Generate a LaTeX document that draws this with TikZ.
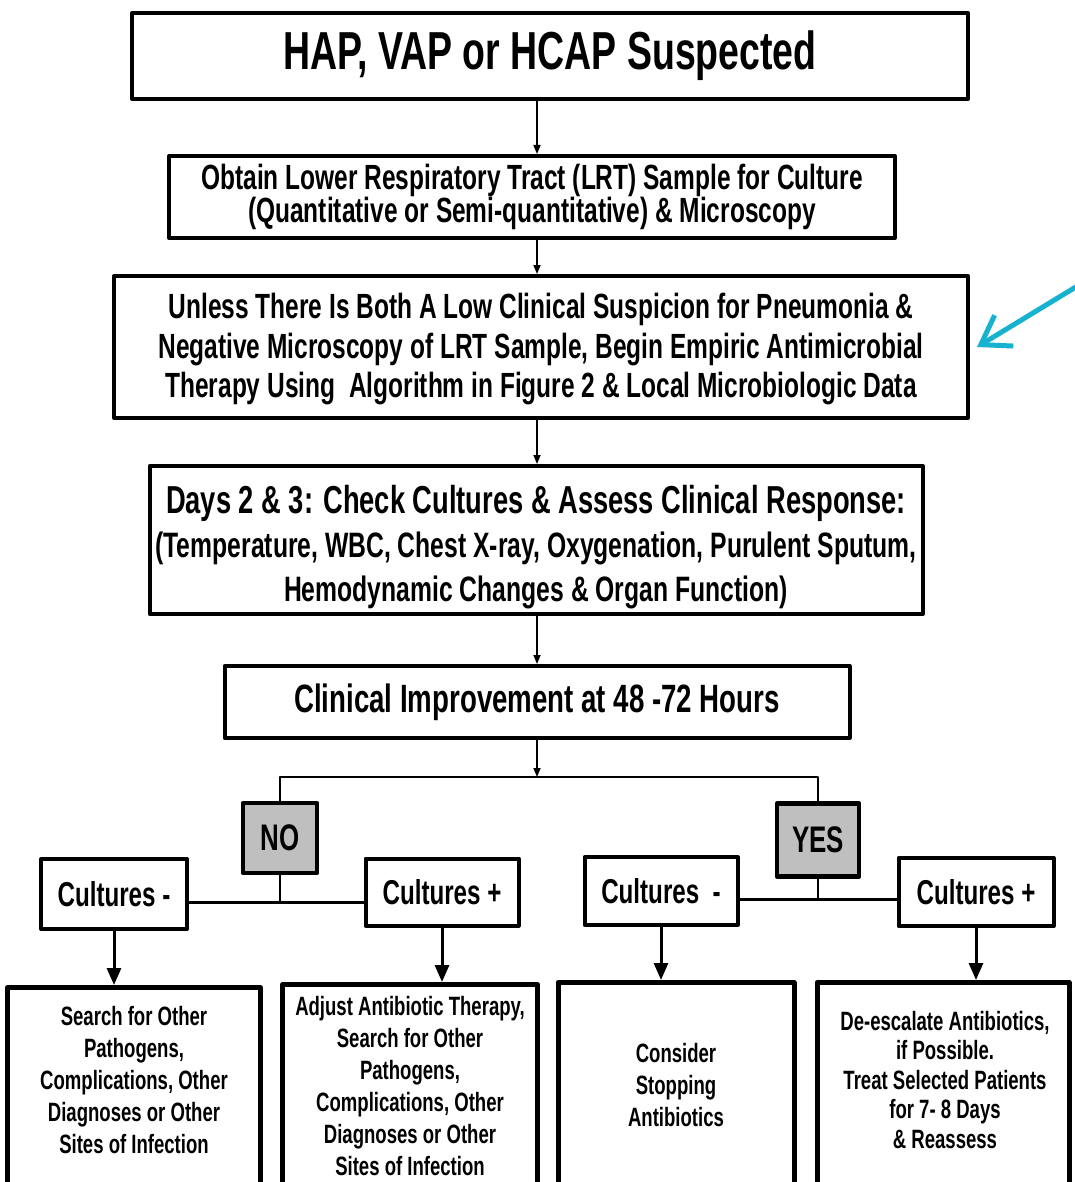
\documentclass[tikz,border=0pt]{standalone}
\usepackage{fontspec}
\setmainfont[FakeStretch=0.7]{Liberation Sans}
\usetikzlibrary{arrows.meta}
\newcommand\fsz[2]{\fontsize{#1}{#2}\selectfont}
\begin{document}
\begin{tikzpicture}[x=1pt,y=-1pt,line join=round,
	box/.style={draw,line width=4pt,fill=white,align=center,inner sep=0pt,font=\bfseries},
	flag/.style={box,fill=black!25,line width=4.5pt},
	lowbox/.style={draw,line width=5pt,anchor=north,minimum height=240},
	lowtxt/.style={align=center,inner sep=0pt,font=\bfseries\fsz{26.5}{32}},
	link/.style={line width=1.6pt,-{Triangle[length=9pt,width=7pt]}},
	joint/.style={line width=2.6pt},
	down/.style={line width=3pt,-{Triangle[length=17pt,width=14pt]}},
	pointer/.style={line width=5pt,line cap=round,color=pcyan,-{Straight Barb[length=27pt,width=36pt]}}]
	\definecolor{pcyan}{RGB}{22,178,208}
	\clip (0,0) rectangle (1075,1182);
	\coordinate (axis) at (537,0);
	\coordinate (split) at (537,777);
	% main column
	\node[box,minimum width=836,minimum height=86,font=\bfseries\fsz{53.5}{60}] (hap) at (550,56) {HAP, VAP or HCAP Suspected};
	\node[box,minimum width=726,minimum height=82,font=\bfseries\fsz{35}{29}] (obtain) at (532,197) {Obtain Lower Respiratory Tract (LRT) Sample for Culture\\(Quantitative or Semi-quantitative) \& Microscopy};
	\node[box,minimum width=854,minimum height=142,font=\bfseries\fsz{35}{39.5}] (unless) at (541,347) {\rule{0pt}{30pt}Unless There Is Both A Low Clinical Suspicion for Pneumonia \&\\Negative Microscopy of LRT Sample, Begin Empiric Antimicrobial\\Therapy Using\ \ Algorithm in Figure 2 \& Local Microbiologic Data};
	\node[box,minimum width=773,minimum height=148,font=\bfseries\fsz{35.3}{44}] (days) at (536,540) {\rule{0pt}{43pt}{\fsz{39}{44}Days 2 \& 3: Check Cultures \& Assess Clinical Response:}\\(Temperature, WBC, Chest X-ray, Oxygenation, Purulent Sputum,\\Hemodynamic Changes \& Organ Function)};
	\node[box,minimum width=625,minimum height=72,font=\bfseries\fsz{39.5}{44}] (clin) at (537,702) {Clinical Improvement at 48 -72 Hours};
	\foreach \a/\b in {hap/obtain,obtain/unless,unless/days,days/clin}
		\draw[link] (\a.south-|axis) -- (\b.north-|axis);
	\draw[link] (clin.south-|axis) -- (split);
	% branches
	\node[flag,minimum width=74,minimum height=70,font=\bfseries\fsz{37}{40}] (no) at (280,838) {NO};
	\node[flag,minimum width=82,minimum height=73,font=\bfseries\fsz{37}{40}] (yes) at (818,840) {YES};
	\draw[joint] (no.north) -- (no.north|-split) -- (yes.north|-split) -- (yes.north);
	\node[box,minimum width=146,minimum height=70,font=\bfseries\fsz{34.5}{36}] (cneg1) at (114,894) {Cultures -};
	\node[box,minimum width=153,minimum height=67,font=\bfseries\fsz{34.5}{36}] (cpos1) at (442,892) {Cultures +};
	\node[box,minimum width=153,minimum height=68,font=\bfseries\fsz{34.5}{36}] (cneg2) at (661,891) {Cultures\ \ -};
	\node[box,minimum width=155,minimum height=68,font=\bfseries\fsz{34.5}{36}] (cpos2) at (976,892) {Cultures +};
	\path (no.south) ++(0,27) coordinate (nojoin);
	\path (yes.south) ++(0,21) coordinate (yesjoin);
	\draw[joint] (no.south) -- (nojoin) (cneg1.east|-nojoin) -- (cpos1.west|-nojoin);
	\draw[joint] (yes.south) -- (yesjoin) (cneg2.east|-yesjoin) -- (cpos2.west|-yesjoin);
	% outcomes
	\node[lowbox,minimum width=253] (res1) at (134,985) {};
	\node[lowbox,minimum width=255] (res2) at (410,982) {};
	\node[lowbox,minimum width=236] (res3) at (676,980) {};
	\node[lowbox,minimum width=252] (res4) at (943,980) {};
	\foreach \c/\r in {cneg1/res1,cpos1/res2,cneg2/res3,cpos2/res4}
		\draw[down] (\c.south) -- (\c.south|-\r.north);
	\node[lowtxt] (txt1) at (134,1080) {Search for Other\\Pathogens,\\Complications, Other\\Diagnoses or Other\\Sites of Infection};
	\node[lowtxt] (txt2) at (410,1086) {Adjust Antibiotic Therapy,\\Search for Other\\Pathogens,\\Complications, Other\\Diagnoses or Other\\Sites of Infection};
	\node[lowtxt] (txt3) at (676,1085) {Consider\\Stopping\\Antibiotics};
	\node[lowtxt,font=\bfseries\fsz{26.5}{29.5}] (txt4) at (945,1080) {De-escalate Antibiotics,\\if Possible.\\Treat Selected Patients\\for 7- 8 Days\\\& Reassess};
	% pointer
	\coordinate (pin) at (1084,282);
	\draw[pointer] (pin) -- ([xshift=7pt]unless.east);
\end{tikzpicture}
\end{document}
